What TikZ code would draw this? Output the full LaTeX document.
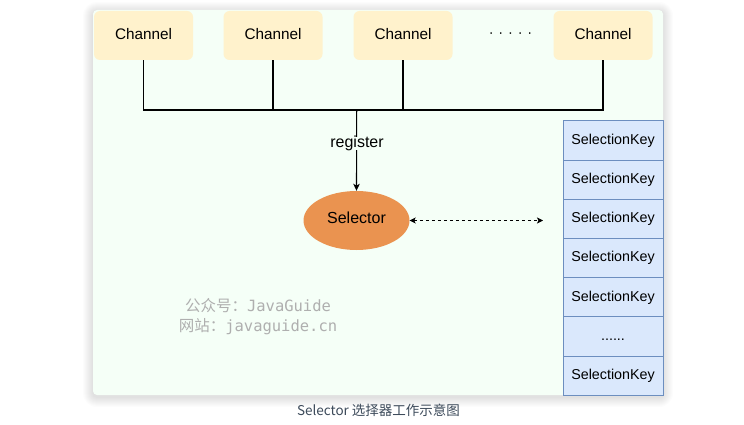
\documentclass[tikz,border=0pt]{standalone}
\usepackage{fontspec}
\setmainfont{Liberation Sans}
\newfontfamily\cjk{Noto Sans CJK SC}
\newfontfamily\wmmono{DejaVu Sans Mono}
\usetikzlibrary{shapes.geometric,arrows.meta}
\definecolor{cardbg}{HTML}{F5FFF7}
\definecolor{chanfill}{HTML}{FFF2CC}
\definecolor{selfill}{HTML}{EA9350}
\definecolor{keyfill}{HTML}{DAE8FC}
\definecolor{keyline}{HTML}{6C8EBF}
\definecolor{wmgray}{HTML}{AFAFAF}
\definecolor{capcol}{HTML}{3C4A5A}
\tikzset{
  card/.style={fill=cardbg, draw=none, rounded corners=4pt},
  shadowlayer/.style={fill=black, fill opacity=0.012, draw=none},
  chan/.style={text height=0.84em, text depth=0pt, fill=chanfill, draw=none, rounded corners=6pt,
    minimum width=99pt, minimum height=49pt, inner sep=0pt, font=\fontsize{15.3}{18}\selectfont},
  selnode/.style={text height=0.68em, text depth=0pt, ellipse, fill=selfill, draw=none,
    minimum width=106pt, minimum height=59pt, inner sep=0pt, font=\fontsize{16}{19}\selectfont},
  keybox/.style={text height=0.79em, text depth=0pt, rectangle, fill=keyfill, draw=keyline,
    line width=0.8pt, minimum width=100pt, minimum height=39.2pt, inner sep=0pt,
    font=\fontsize{14.3}{17}\selectfont},
  conn/.style={draw=black, line width=1.1pt},
  lbl/.style={text height=0.72em, text depth=0pt, fill=cardbg, inner sep=3pt,
    font=\fontsize{16}{19}\selectfont},
  dotsnode/.style={inner sep=0pt, font=\fontsize{14.5}{17}\selectfont},
  wmark/.style={align=center, text=wmgray, font=\fontsize{15.5}{20}\selectfont},
  capnode/.style={text=capcol, inner sep=0pt, font=\cjk\fontsize{13.5}{16}\selectfont}
}
\begin{document}
\begin{tikzpicture}[x=1pt, y=-1pt]
\useasboundingbox (0,0) rectangle (744,425);
\fill[white] (0,0) rectangle (744,425);
% card shadow
\foreach \s in {1,2,...,10} {
  \fill[shadowlayer, rounded corners=\s pt+4pt] (93-\s,10-\s+2) rectangle (663+\s,395+\s+2);
}
% card background
\path[card] (93,10) rectangle (663,395);

% channels
\node[chan] (c1) at (143.5,35.5) {Channel};
\node[chan] (c2) at (273,35.5) {Channel};
\node[chan] (c3) at (403,35.5) {Channel};
\node[chan] (c5) at (603,35.5) {Channel};
\node[dotsnode] (dots) at (510.5,34.7) {·\,\,·\,\,·\,\,·\,\,·};

% bus
\coordinate (bus) at (356.7,110);
\draw[conn] (c1.south) -- (c1.south |- bus) -- (c5.south |- bus) -- (c5.south);
\draw[conn] (c2.south) -- (c2.south |- bus);
\draw[conn] (c3.south) -- (c3.south |- bus);

% selector
\node[selnode] (sel) at (356.5,220.5) {Selector};
\draw[conn, -{Stealth[length=7pt, width=6.5pt, inset=1.8pt]}] (bus) -- (sel.north);
\node[lbl] (reg) at (357,143.8) {register};

% dashed double arrow
\coordinate (dend) at (543,220.5);
\draw[line width=0.9pt, dash pattern=on 3pt off 3pt,
  {Stealth[length=6pt, width=6pt, inset=1.5pt]}-{Stealth[length=6pt, width=6pt, inset=1.5pt]}]
  (sel.east) -- (dend);

% selection keys
\node[keybox] (k1) at (613,140.3) {SelectionKey};
\node[keybox] (k2) at (613,179.5) {SelectionKey};
\node[keybox] (k3) at (613,218.7) {SelectionKey};
\node[keybox] (k4) at (613,257.9) {SelectionKey};
\node[keybox] (k5) at (613,297.1) {SelectionKey};
\node[keybox] (k6) at (613,336.3) {......};
\node[keybox] (k7) at (613,375.5) {SelectionKey};

% watermark
\node[wmark] (wm) at (258,316.5) {{\cjk 公众号：}{\wmmono JavaGuide}\\{\cjk 网站：}{\wmmono javaguide.cn}};

% caption
\node[capnode] (cap) at (378.5,410.5) {Selector 选择器工作示意图};
\end{tikzpicture}
\end{document}
